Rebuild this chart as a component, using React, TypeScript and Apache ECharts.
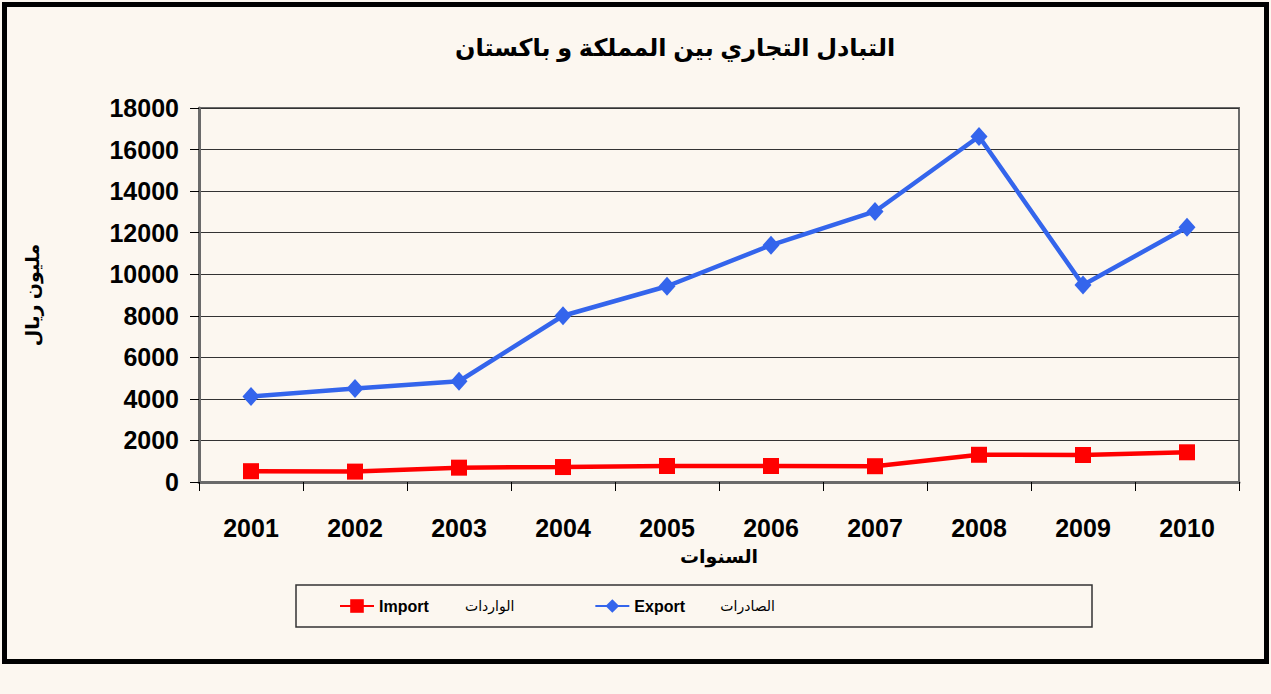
import React, { useEffect, useRef } from "react";
import * as echarts from "echarts";

const years = ["2001", "2002", "2003", "2004", "2005", "2006", "2007", "2008", "2009", "2010"];
const importValues = [520, 500, 690, 720, 770, 770, 760, 1310, 1300, 1430];
const exportValues = [4120, 4500, 4850, 8000, 9420, 11400, 13020, 16630, 9480, 12260];
const yTicks = { min: 0, max: 18000, interval: 2000 };
const titleText = "التبادل التجاري بين المملكة و باكستان";
const xName = "السنوات";
const yName = "مليون ريال";
const legendArabic: Record<string, string> = { Import: "الواردات", Export: "الصادرات" };

const FONT = "'Liberation Sans', Arial, 'DejaVu Sans', sans-serif";
const RED = "#ff0000";
const BLUE = "#3465ec";

export default function App() {
  const ref = useRef<HTMLDivElement>(null);
  useEffect(() => {
    if (!ref.current) return;
    const chart = echarts.init(ref.current, null, { renderer: "svg" });
    chart.setOption({
      animation: false,
      backgroundColor: "#fcf7f0",
      textStyle: { fontFamily: FONT },
      title: {
        text: titleText,
        left: 670,
        top: 30,
        textAlign: "center",
        textStyle: { fontFamily: FONT, fontSize: 24, fontWeight: "bold", color: "#000" },
      },
      grid: {
        left: 199,
        right: 32,
        top: 108,
        bottom: 212,
        show: true,
        borderColor: "#6a6a6a",
        borderWidth: 2,
        backgroundColor: "transparent",
      },
      legend: {
        left: 339,
        top: 598,
        padding: 0,
        itemWidth: 34,
        itemHeight: 17,
        itemGap: 80,
        data: ["Import", "Export"],
        formatter: (name: string) => `{a|${name}}{b|${legendArabic[name]}}`,
        textStyle: {
          fontFamily: FONT,
          rich: {
            a: { fontSize: 16, fontWeight: "bold", color: "#000", width: 86, fontFamily: FONT },
            b: { fontSize: 14, color: "#000", width: 46, fontFamily: FONT },
          },
        },
      },
      xAxis: {
        type: "category",
        data: years,
        boundaryGap: true,
        name: xName,
        nameLocation: "middle",
        nameGap: 65,
        nameTextStyle: { fontFamily: FONT, fontSize: 19, fontWeight: "bold", color: "#000" },
        axisLine: { show: true, lineStyle: { color: "#6a6a6a", width: 3 } },
        axisTick: { show: true, length: 9, lineStyle: { color: "#000", width: 1 } },
        axisLabel: { margin: 33, fontSize: 25, fontWeight: "bold", color: "#000", fontFamily: FONT },
        splitLine: { show: false },
      },
      yAxis: {
        type: "value",
        min: yTicks.min,
        max: yTicks.max,
        interval: yTicks.interval,
        name: yName,
        nameLocation: "middle",
        nameRotate: 90,
        nameGap: 157,
        nameTextStyle: { fontFamily: FONT, fontSize: 19, fontWeight: "bold", color: "#000" },
        axisLine: { show: true, lineStyle: { color: "#6a6a6a", width: 3 } },
        axisTick: { show: true, length: 9, lineStyle: { color: "#000", width: 1 } },
        axisLabel: {
          margin: 20,
          fontSize: 25,
          fontWeight: "bold",
          color: "#000",
          fontFamily: FONT,
          formatter: (v: number) => String(v),
        },
        splitLine: { show: true, lineStyle: { color: "#333", width: 1 } },
      },
      series: [
        {
          name: "Import",
          type: "line",
          data: importValues,
          symbol: "rect",
          symbolSize: 16,
          lineStyle: { color: RED, width: 4.5 },
          itemStyle: { color: RED },
          z: 3,
        },
        {
          name: "Export",
          type: "line",
          data: exportValues,
          symbol: "diamond",
          symbolSize: [17, 19],
          lineStyle: { color: BLUE, width: 4.5 },
          itemStyle: { color: BLUE },
          z: 4,
        },
      ],
      graphic: [
        {
          type: "rect",
          shape: { x: 4.5, y: 4.5, width: 1262, height: 657 },
          style: { fill: "none", stroke: "#000", lineWidth: 5 },
          silent: true,
          z: 10,
        },
        {
          type: "rect",
          shape: { x: 296, y: 585, width: 796, height: 42 },
          style: { fill: "none", stroke: "#333", lineWidth: 1.5 },
          silent: true,
          z: 10,
        },
      ],
    });
    return () => chart.dispose();
  }, []);
  return <div ref={ref} style={{ position: "fixed", left: 0, top: 0, width: 1271, height: 694 }} />;
}
